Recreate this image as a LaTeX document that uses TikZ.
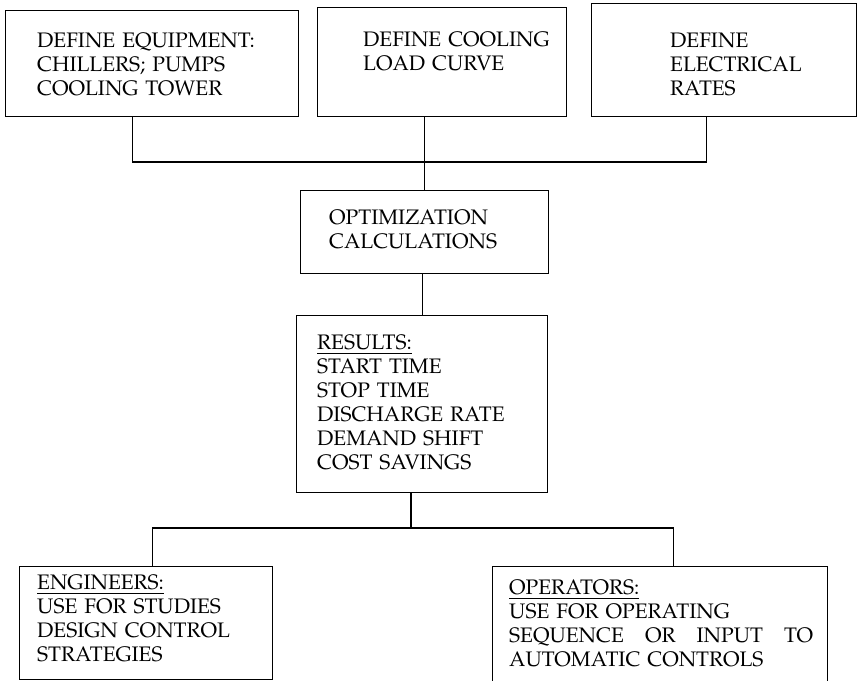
\documentclass[tikz,border=0pt]{standalone}
\usepackage[T1]{fontenc}
\usepackage{mathpazo}
\begin{document}
\begin{tikzpicture}[x=1pt,y=-1pt,
  box/.style={draw,line width=1.1pt,rectangle,inner sep=0pt,anchor=north west},
  txt/.style={inner sep=0pt,anchor=north west,align=left,text width=310pt,
    font=\fontfamily{ppl}\fontsize{21}{24}\selectfont},
  conn/.style={line width=1.1pt}]
\useasboundingbox[fill=white] (0,0) rectangle (858,680);
% boxes
\node[box,minimum width=293pt,minimum height=106pt] (b1) at (5,10) {};
\node[box,minimum width=249pt,minimum height=109pt] (b2) at (317,7) {};
\node[box,minimum width=265pt,minimum height=113pt] (b3) at (591,3) {};
\node[box,minimum width=248pt,minimum height=83pt] (opt) at (300,190) {};
\node[box,minimum width=251pt,minimum height=177pt] (res) at (296,315) {};
\node[box,minimum width=253pt,minimum height=113pt] (eng) at (19,566) {};
\node[box,minimum width=335pt,minimum height=120pt] (ops) at (492,566) {};
% texts
\node[txt] (t1) at (37,33) {DEFINE EQUIPMENT:\\CHILLERS; PUMPS\\COOLING TOWER};
\node[txt] (t2) at (363,32) {DEFINE COOLING\\LOAD CURVE};
\node[txt] (t3) at (670,33) {DEFINE\\ELECTRICAL\\RATES};
\node[txt] (t4) at (329,210) {OPTIMIZATION\\CALCULATIONS};
\node[txt] (t5) at (317,335) {\underline{RESULTS:}\\START TIME\\STOP TIME\\DISCHARGE RATE\\DEMAND SHIFT\\COST SAVINGS};
\node[txt] (t6) at (37,575) {\underline{ENGINEERS:}\\USE FOR STUDIES\\DESIGN CONTROL\\STRATEGIES};
\node[txt] (t7) at (509,580) {\underline{OPERATORS:}\\USE FOR OPERATING\\\leavevmode\hbox to 304pt{SEQUENCE\hfill OR\hfill INPUT\hfill TO}\\AUTOMATIC CONTROLS};
% junctions
\coordinate (jt) at (424,162);
\coordinate (jb) at (411,528);
% connectors
\draw[conn] ([xshift=-19.5pt]b1.south) |- (jt) -| ([xshift=-17.5pt]b3.south);
\draw[conn] (b2.south -| opt.north) -- (opt.north);
\draw[conn] (opt.south -| res.north) -- (res.north);
\draw[conn] (res.south -| jb) -- (jb);
\draw[conn] ([xshift=6.5pt]eng.north) |- (jb) -| ([xshift=13.5pt]ops.north);
\end{tikzpicture}
\end{document}
